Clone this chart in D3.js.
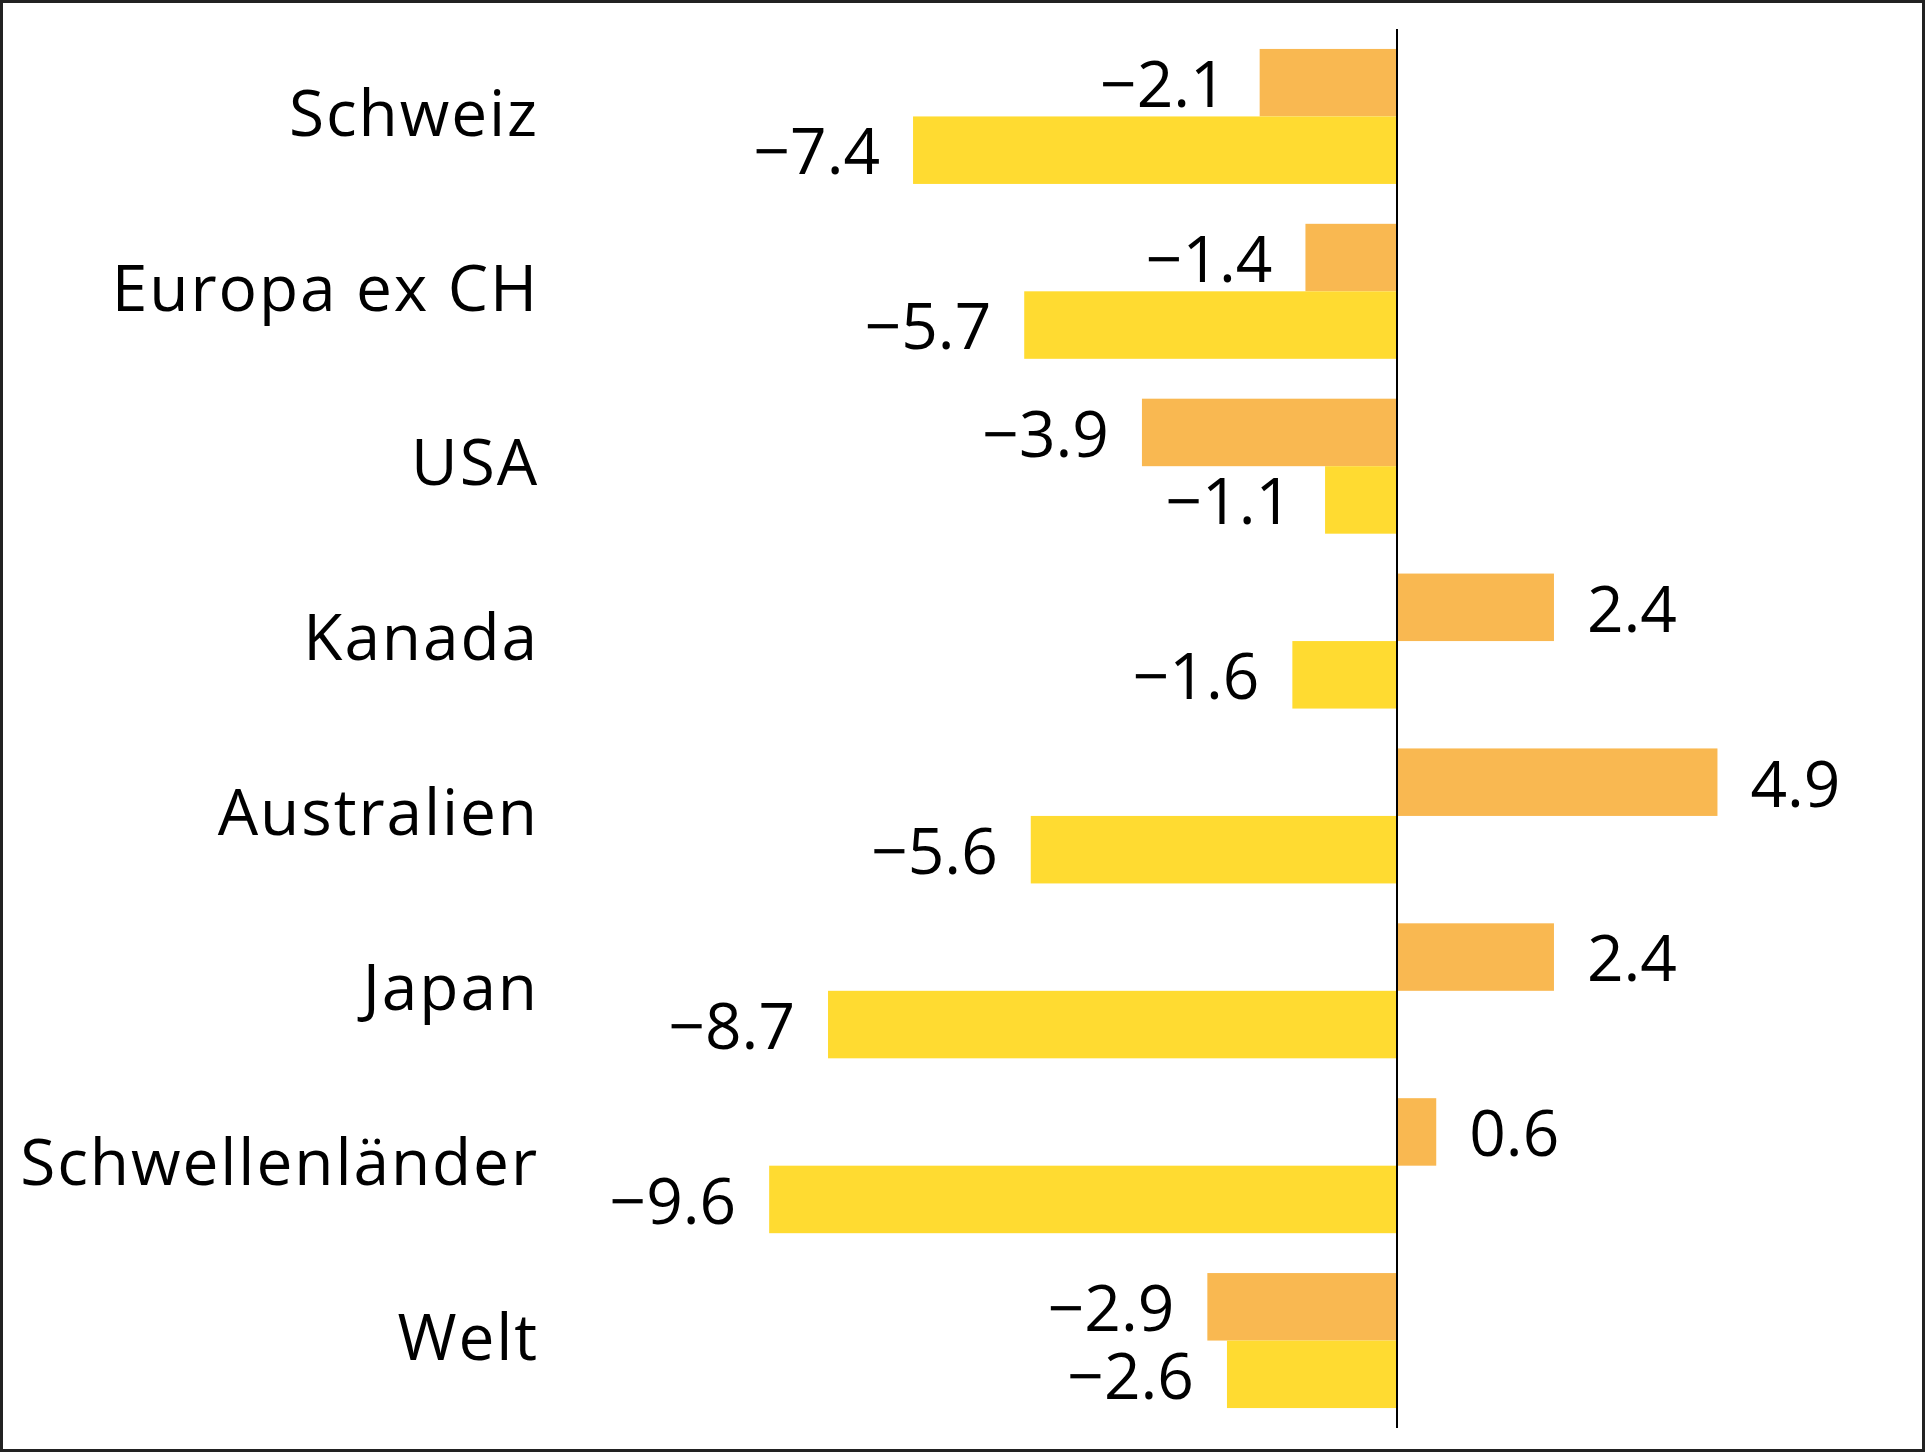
<!DOCTYPE html>
<html>
<head>
<meta charset="utf-8">
<script src="https://cdn.jsdelivr.net/npm/d3@7"></script>
<style>
  body { margin: 0; background: #fff; }
  text { font-family: "Open Sans", sans-serif; fill: #000; }
</style>
</head>
<body>
<div id="chart"></div>
<script>
// Daten
const regionen = ["Schweiz", "Europa ex CH", "USA", "Kanada", "Australien", "Japan", "Schwellenländer", "Welt"];
const serieA = [-2.1, -1.4, -3.9, 2.4, 4.9, 2.4, 0.6, -2.9];   // orange
const serieB = [-7.4, -5.7, -1.1, -1.6, -5.6, -8.7, -9.6, -2.6]; // gelb
const serien = ["A", "B"];

// Kích thước
const W = 1925, H = 1452;
const farben = { A: "#f9b851", B: "#ffdb31" };

const svg = d3.select("#chart")
  .append("svg")
    .attr("width", W)
    .attr("height", H);

// Rahmen
svg.append("rect")
  .attr("x", 1.5).attr("y", 1.5)
  .attr("width", W - 3).attr("height", H - 3)
  .attr("fill", "#fff")
  .attr("stroke", "#222")
  .attr("stroke-width", 3);

// Scales
const x = d3.scaleLinear()
  .domain([-12, 8])
  .range([1397 - 12 * 65.4, 1397 + 8 * 65.4]);

const y = d3.scaleBand()
  .domain(regionen)
  .range([29, 1428])
  .paddingInner(0.228)
  .paddingOuter(0.114);

const ySub = d3.scaleBand()
  .domain(serien)
  .range([0, y.bandwidth()]);

const rows = regionen.map((r, i) => ({
  region: r,
  werte: [{ s: "A", v: serieA[i] }, { s: "B", v: serieB[i] }]
}));

const gruppen = svg.selectAll(".gruppe")
  .data(rows)
  .enter()
  .append("g")
    .attr("class", "gruppe")
    .attr("transform", d => `translate(0,${y(d.region)})`);

// Balken
gruppen.selectAll("rect")
  .data(d => d.werte)
  .enter()
  .append("rect")
    .attr("x", d => x(Math.min(0, d.v)))
    .attr("y", d => ySub(d.s))
    .attr("width", d => Math.abs(x(d.v) - x(0)))
    .attr("height", ySub.bandwidth())
    .attr("fill", d => farben[d.s]);

// Wertelabels
const gap = 33;
gruppen.selectAll(".wert")
  .data(d => d.werte)
  .enter()
  .append("text")
    .attr("class", "wert")
    .attr("x", d => d.v < 0 ? x(d.v) - gap : x(d.v) + gap)
    .attr("y", d => ySub(d.s) + ySub.bandwidth() / 2)
    .attr("dy", "0.38em")
    .attr("text-anchor", d => d.v < 0 ? "end" : "start")
    .style("font-size", "64px")
    .text(d => d3.format(".1f")(d.v).replace("-", "\u2212"));

// Kategorien
svg.selectAll(".kat")
  .data(regionen)
  .enter()
  .append("text")
    .attr("class", "kat")
    .attr("x", 539)
    .attr("y", d => y(d) + y.bandwidth() / 2)
    .attr("dy", "0.3em")
    .attr("text-anchor", "end")
    .style("font-size", "64px")
    .style("letter-spacing", "1.9px")
    .text(d => d);

// Nulllinie
svg.append("line")
  .attr("x1", x(0)).attr("x2", x(0))
  .attr("y1", 29).attr("y2", 1428)
  .attr("stroke", "#000")
  .attr("stroke-width", 2);
</script>
</body>
</html>
